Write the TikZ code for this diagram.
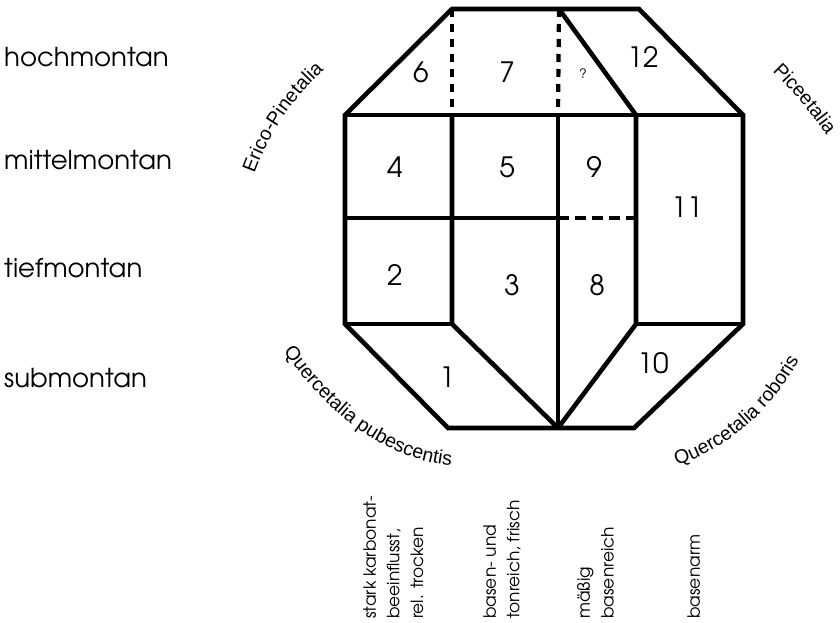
\documentclass[tikz,border=0pt]{standalone}
\usepackage{fontspec}
\setmainfont{texgyreadventor-regular.otf}
\newfontfamily\arialfont{Liberation Sans}
\usetikzlibrary{decorations.text}

\tikzset{
  zone/.style={line width=4.6pt, line join=miter},
  zonedash/.style={line width=4.2pt, dash pattern=on 8pt off 7pt},
  num/.style={font=\fontsize{28}{28}\selectfont, inner sep=0pt},
  level/.style={font=\fontsize{26}{26}\selectfont, anchor=west, inner sep=0pt},
  soil/.style={font=\fontsize{17}{23.7}\selectfont, rotate=90, anchor=north west, align=left, inner sep=0pt},
  order/.style={decorate, decoration={text along path, text align=center,
      text={|\arialfont\fontsize{19.5}{19.5}\selectfont|#1}}}
}

\begin{document}
\begin{tikzpicture}[x=1pt, y=-1pt]
  \useasboundingbox (0,0) rectangle (840,623);

  % corners and crossings of the grid
  \coordinate (t1) at (452,9);
  \coordinate (t2) at (559,9);
  \coordinate (t3) at (639,9);
  \coordinate (l1) at (345,115);
  \coordinate (a1) at (452,115);
  \coordinate (a2) at (558,115);
  \coordinate (a3) at (636,115);
  \coordinate (r1) at (743,115);
  \coordinate (c0) at (345,218);
  \coordinate (c2) at (558,218);
  \coordinate (c3) at (636,218);
  \coordinate (l2) at (345,324);
  \coordinate (d1) at (452,324);
  \coordinate (d3) at (636,324);
  \coordinate (r2) at (743,324);
  \coordinate (b1) at (448,428);
  \coordinate (b2) at (558,428);
  \coordinate (b3) at (634,428);

  % outline
  \draw[zone] (t1) -- (t3) -- (r1) -- (r2) -- (b3) -- (b1) -- (l2) -- (l1) -- cycle;

  % inner borders
  \draw[zone] (l1) -- (r1);
  \draw[zone] (c0) -- (c2);
  \draw[zone] (l2) -- (d1);
  \draw[zone] (d3) -- (r2);
  \draw[zone] (a1) -- (d1) -- (b2);
  \draw[zone] (a2) -- (b2);
  \draw[zone] (t2) -- (a3) -- (d3) -- (b2);
  \draw[zonedash] (t1) -- (a1);
  \draw[zonedash] (t2) -- (a2);
  \draw[zonedash, dash pattern=on 11pt off 6pt] (c2) -- (c3);

  % zone numbers
  \node[num] (n6) at (421,72) {6};
  \node[num] (n7) at (507,72) {7};
  \node[font=\fontsize{13}{13}\selectfont, inner sep=0pt] (nq) at (583,74) {?};
  \node[num] (n12) at (643,57) {12};
  \node[num] (n4) at (395,167) {4};
  \node[num] (n5) at (507,167) {5};
  \node[num] (n9) at (594,167) {9};
  \node[num] (n11) at (687,207) {11};
  \node[num] (n2) at (395,275) {2};
  \node[num] (n3) at (512,285) {3};
  \node[num] (n8) at (597,285) {8};
  \node[num] (n1) at (447,377) {1};
  \node[num] (n10) at (653,363) {10};

  % altitudinal belts
  \node[level] (hoch) at (4,57) {hochmontan};
  \node[level] (mittel) at (4,160) {mittelmontan};
  \node[level] (tief) at (4,268) {tiefmontan};
  \node[level] (sub) at (4,378) {submontan};

  % orders round the octagon
  \path[order=Erico-Pinetalia] (249.9,186.1) -- (255,172)
    .. controls (268.7,134.1) and (291.3,100.5) .. (323,71) -- (334,60.8);
  \path[order=Piceetalia] (762.4,59.5) -- (772,71)
    .. controls (792,90.7) and (810.3,112.3) .. (827,136) -- (835.1,148.6);
  \path[order=Quercetalia pubescentis] (277.1,342.9) -- (286,355)
    .. controls (334.2,421.1) and (387.9,457.8) .. (447,465) -- (461.9,466.8);
  \path[order=Quercetalia roboris] (664.9,470.1) -- (679,465)
    .. controls (729.3,446.8) and (769,412.5) .. (798,362) -- (805.5,349);

  % soil columns
  \node[soil] (karb) at (363,619) {stark karbonat-\\beeinflusst,\\rel. trocken};
  \node[soil] (ton) at (483,619) {basen- und\\tonreich, frisch};
  \node[soil] (mass) at (577,619) {mäßig\\basenreich};
  \node[soil] (arm) at (687,619) {basenarm};
\end{tikzpicture}
\end{document}
